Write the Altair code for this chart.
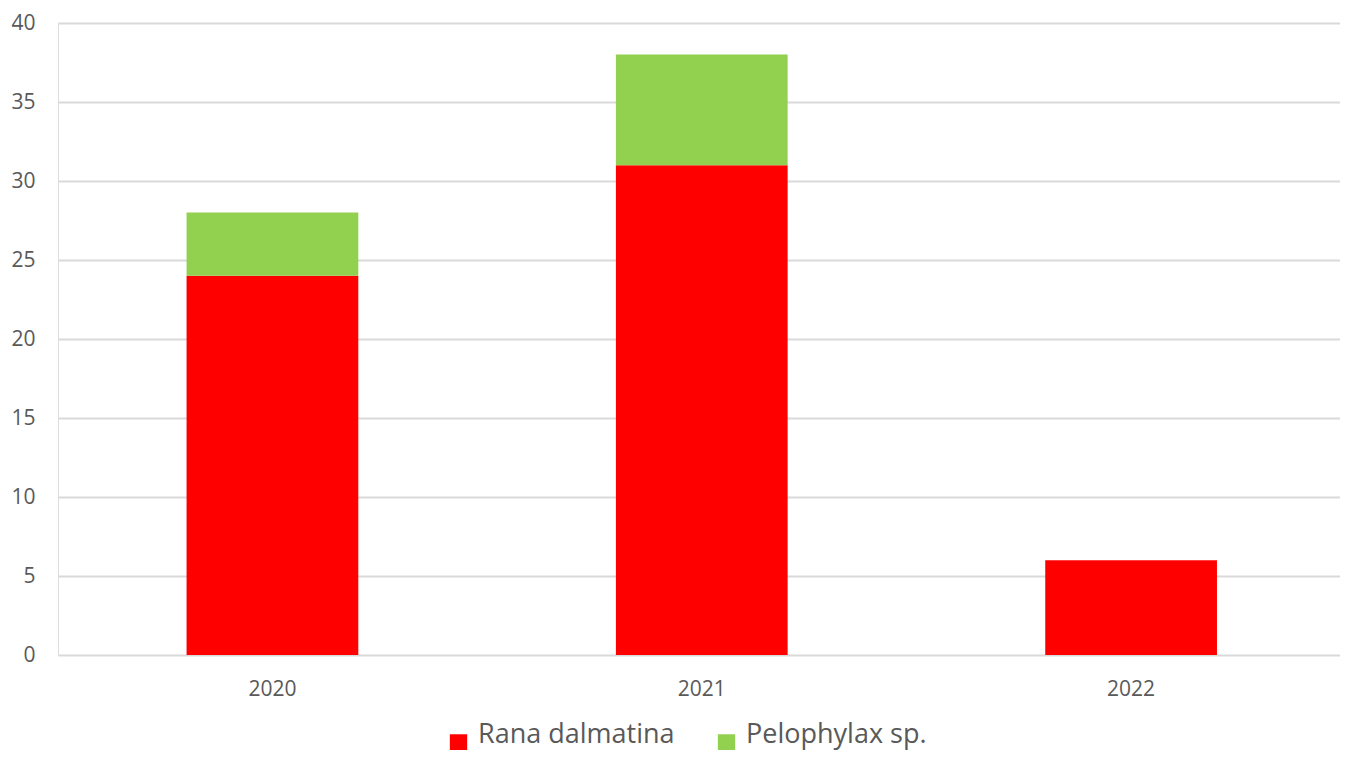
import altair as alt
import pandas as pd

years = ["2020", "2021", "2022"]
rana = [24, 31, 6]
pelophylax = [4, 7, 0]
species = ["Rana dalmatina", "Pelophylax sp."]
colors = ["#FF0000", "#92D050"]

rows = []
for i, y in enumerate(years):
    rows.append({"year": y, "species": species[0], "value": rana[i], "order": 0})
    rows.append({"year": y, "species": species[1], "value": pelophylax[i], "order": 1})
df = pd.DataFrame(rows)

FONT = "Open Sans"

chart = alt.Chart(df).mark_bar().encode(
    x=alt.X("year:N", sort=years, title=None,
            scale=alt.Scale(paddingInner=0.6, paddingOuter=0.293, align=0.511),
            axis=alt.Axis(labelAngle=0, domain=False, ticks=False, labelPadding=23,
                          labelFontSize=21, labelColor="#595959", labelFont=FONT)),
    y=alt.Y("value:Q", title=None, stack="zero",
            scale=alt.Scale(domain=[0, 40]),
            axis=alt.Axis(values=list(range(0, 45, 5)), domain=False, ticks=False,
                          labelPadding=23, labelFontSize=21, labelColor="#595959",
                          labelFont=FONT, gridColor="#D9D9D9", gridWidth=2)),
    color=alt.Color("species:N", sort=species,
                    scale=alt.Scale(domain=species, range=colors),
                    legend=alt.Legend(title=None, orient="none", direction="horizontal",
                                      legendX=387, legendY=706, symbolType="square",
                                      symbolSize=300, symbolStrokeWidth=0,
                                      labelFontSize=27, labelColor="#595959",
                                      labelFont=FONT, labelOffset=6, columnPadding=38,
                                      labelBaseline="alphabetic",
                                      labelLimit=400, symbolOpacity=1)),
    order=alt.Order("order:Q"),
).properties(
    width=1282, height=632,
    padding={"left": 50, "top": 15, "right": 0, "bottom": 95},
    autosize=alt.AutoSizeParams(type="none"),
).configure_view(stroke=None).configure(background="white")

chart.save("out.html", embed_options={"renderer": "svg", "actions": False})
